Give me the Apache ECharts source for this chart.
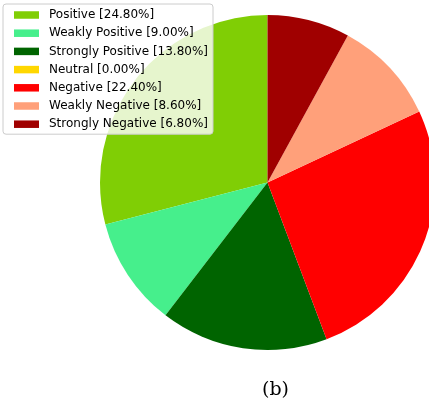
<!DOCTYPE html>
<html>
<head>
<meta charset="utf-8">
<script src="https://cdn.jsdelivr.net/npm/echarts@6/dist/echarts.min.js"></script>
<style>
html,body{margin:0;padding:0;background:#fff;}
#chart{width:429px;height:405px;}
</style>
</head>
<body>
<div id="chart"></div>
<script>
const categories = ['Positive', 'Weakly Positive', 'Strongly Positive', 'Neutral', 'Negative', 'Weakly Negative', 'Strongly Negative'];
const values = [24.80, 9.00, 13.80, 0.00, 22.40, 8.60, 6.80];
const colors = ['#80ce05', '#46ef8c', '#006400', '#ffd700', '#ff0000', '#ffa07a', '#a00000'];
const caption = '(b)';

const chart = echarts.init(document.getElementById('chart'));
const data = categories.map((c, i) => ({ name: c, value: values[i], itemStyle: { color: colors[i] } }));

chart.setOption({
  animation: false,
  backgroundColor: '#ffffff',
  legend: {
    orient: 'vertical',
    left: 3,
    top: 4,
    padding: [4, 5, 3, 11],
    itemWidth: 25,
    itemHeight: 7.5,
    itemGap: 4.2,
    icon: 'rect',
    selectedMode: false,
    backgroundColor: 'rgba(255,255,255,0.8)',
    borderColor: '#cccccc',
    borderWidth: 1,
    borderRadius: 3,
    textStyle: {
      fontFamily: 'DejaVu Sans',
      fontSize: 12,
      color: '#000000',
      lineHeight: 14,
      padding: [0, 0, 0, 5]
    },
    formatter: function (name) {
      const i = categories.indexOf(name);
      return name + ' [' + values[i].toFixed(2) + '%]';
    },
    data: categories
  },
  series: [{
    type: 'pie',
    center: [267.5, 182.5],
    radius: 167.5,
    startAngle: 90,
    clockwise: false,
    label: { show: false },
    labelLine: { show: false },
    emphasis: { disabled: true },
    itemStyle: { borderWidth: 0 },
    data: data
  }],
  graphic: [{
    type: 'text',
    left: 262,
    top: 381,
    style: {
      text: caption,
      fontFamily: 'DejaVu Serif',
      fontSize: 19,
      fill: '#000000'
    }
  }]
});
</script>
</body>
</html>
